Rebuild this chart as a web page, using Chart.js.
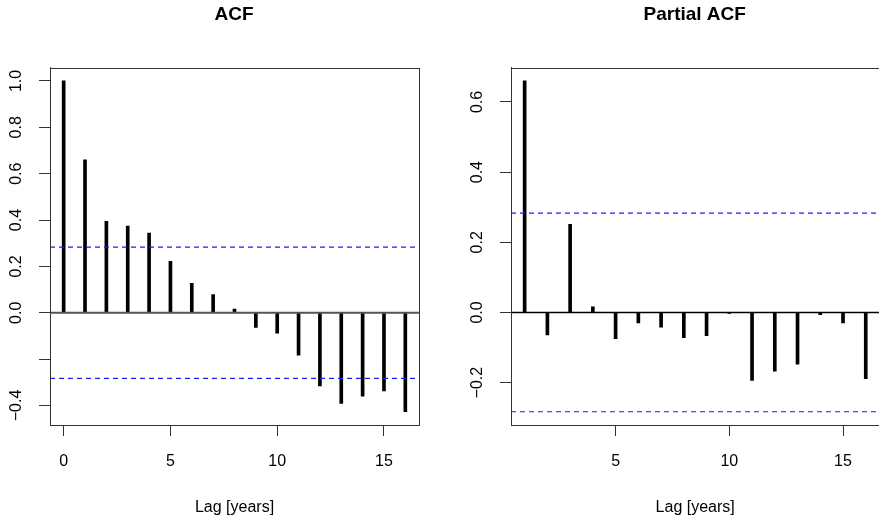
<!DOCTYPE html>
<html>
<head>
<meta charset="utf-8">
<script src="https://cdn.jsdelivr.net/npm/chart.js@4.4.1/dist/chart.umd.min.js"></script>
<style>
    html, body { margin: 0; padding: 0; background: #fff; overflow: hidden; }
    #wrap { position: relative; width: 879px; height: 521px; overflow: hidden; }
    canvas { position: absolute; top: 0; }
    #acfChart { left: 0; }
    #pacfChart { left: 440px; }
</style>
</head>
<body>
<div id="wrap">
    <canvas id="acfChart" width="440" height="521"></canvas>
    <canvas id="pacfChart" width="450" height="521"></canvas>
</div>
<script>
// autocorrelation, lags 0..16
const acfLags = [0, 1, 2, 3, 4, 5, 6, 7, 8, 9, 10, 11, 12, 13, 14, 15, 16];
const acfValues = [1.0, 0.66, 0.394, 0.374, 0.344, 0.222, 0.127, 0.079, 0.016,
    -0.063, -0.088, -0.183, -0.315, -0.391, -0.360, -0.337, -0.427];

// partial autocorrelation, lags 1..16
const pacfLags = [1, 2, 3, 4, 5, 6, 7, 8, 9, 10, 11, 12, 13, 14, 15, 16];
const pacfValues = [0.66, -0.064, 0.251, 0.016, -0.075, -0.030, -0.042, -0.072,
    -0.066, -0.003, -0.194, -0.167, -0.147, -0.006, -0.030, -0.189];

// confidence limit (dashed blue lines)
const ciLimit = 0.283;

const acfXTicks = [0, 5, 10, 15];
const acfYTicks = [-0.4, -0.2, 0, 0.2, 0.4, 0.6, 0.8, 1.0];
const acfYLabels = ["\u22120.4", "", "0.0", "0.2", "0.4", "0.6", "0.8", "1.0"];

const pacfXTicks = [5, 10, 15];
const pacfYTicks = [-0.2, 0, 0.2, 0.4, 0.6];
const pacfYLabels = ["\u22120.2", "0.0", "0.2", "0.4", "0.6"];

Chart.defaults.font.family = "'Liberation Sans', Arial, Helvetica, sans-serif";
Chart.defaults.font.size = 16;
Chart.defaults.color = "#000";

// R-style extended range (4% each side)
function padRange(lo, hi) {
    const d = (hi - lo) * 0.04;
    return [lo - d, hi + d];
}

// box around the plot region, like R's box()
const boxPlugin = {
    id: "plotBox",
    afterDatasetsDraw(chart) {
        const a = chart.chartArea;
        const ctx = chart.ctx;
        ctx.save();
        ctx.strokeStyle = "#333";
        ctx.lineWidth = 1;
        ctx.strokeRect(Math.round(a.left) + 0.5, Math.round(a.top) + 0.5,
            Math.round(a.right - a.left), Math.round(a.bottom - a.top));
        ctx.restore();
    }
};

function makePanel(canvasId, cfg) {
    const [xMin, xMax] = padRange(Math.min(...cfg.lags), Math.max(...cfg.lags));
    const [yMin, yMax] = padRange(Math.min(-ciLimit, ...cfg.values), Math.max(ciLimit, ...cfg.values));
    const ctx = document.getElementById(canvasId).getContext("2d");

    const hLine = (y, color, width, dash) => ({
        type: "line",
        data: [{ x: xMin, y: y }, { x: xMax, y: y }],
        borderColor: color,
        borderWidth: width,
        borderDash: dash,
        pointRadius: 0,
        fill: false,
        order: 1
    });

    return new Chart(ctx, {
        type: "bar",
        data: {
            datasets: [
                {
                    data: cfg.lags.map((l, i) => ({ x: l, y: cfg.values[i] })),
                    backgroundColor: "#000",
                    borderWidth: 0,
                    barThickness: 3,
                    order: 3
                },
                hLine(0, cfg.zeroColor, cfg.zeroWidth, []),
                hLine(ciLimit, "#1a1aff", 1.2, [5, 4]),
                hLine(-ciLimit, "#1a1aff", 1.2, [5, 4])
            ]
        },
        options: {
            responsive: false,
            animation: false,
            devicePixelRatio: 1,
            // y axis kept 1px wide so the title centres over the plot box;
            // labels are "mirrored" with a negative padding so they are not clipped to the axis box
            layout: { padding: { left: cfg.padLeft, right: cfg.padRight, top: 0, bottom: 0 } },
            plugins: {
                legend: { display: false },
                tooltip: { enabled: false },
                title: {
                    display: true,
                    text: cfg.title,
                    color: "#000",
                    font: { size: 19, weight: "bold" },
                    padding: { top: 3, bottom: 41.9 }
                }
            },
            scales: {
                x: {
                    type: "linear",
                    offset: false,
                    min: xMin,
                    max: xMax,
                    afterBuildTicks: (s) => { s.ticks = cfg.xTicks.map(v => ({ value: v })); },
                    afterFit: (s) => { s.height = 96; },
                    ticks: { padding: 16, autoSkip: false, maxRotation: 0, callback: (v) => String(v) },
                    grid: { offset: false, drawOnChartArea: false, drawTicks: true, tickLength: 11, color: "#333" },
                    border: { display: true, color: "#333" },
                    title: { display: true, text: "Lag [years]", font: { size: 16 }, padding: { top: 0, bottom: 3.9 } }
                },
                y: {
                    type: "linear",
                    min: yMin,
                    max: yMax,
                    afterBuildTicks: (s) => { s.ticks = cfg.yTicks.map(v => ({ value: v })); },
                    afterFit: (s) => { s.width = 1; },
                    ticks: {
                        mirror: true,
                        padding: -49,
                        autoSkip: false,
                        minRotation: 90,
                        maxRotation: 90,
                        crossAlign: "center",
                        callback: (v, i) => cfg.yLabels[i]
                    },
                    grid: { offset: false, drawOnChartArea: false, drawTicks: true, tickLength: 11, color: "#333" },
                    border: { display: true, color: "#333" }
                }
            }
        },
        plugins: [boxPlugin]
    });
}

makePanel("acfChart", {
    title: "ACF",
    lags: acfLags,
    values: acfValues,
    xTicks: acfXTicks,
    yTicks: acfYTicks,
    yLabels: acfYLabels,
    padLeft: 49,
    padRight: 21,
    zeroColor: "#555",
    zeroWidth: 2
});

makePanel("pacfChart", {
    title: "Partial ACF",
    lags: pacfLags,
    values: pacfValues,
    xTicks: pacfXTicks,
    yTicks: pacfYTicks,
    yLabels: pacfYLabels,
    padLeft: 70,
    padRight: 10.6,
    zeroColor: "#000",
    zeroWidth: 1.3
});
</script>
</body>
</html>
